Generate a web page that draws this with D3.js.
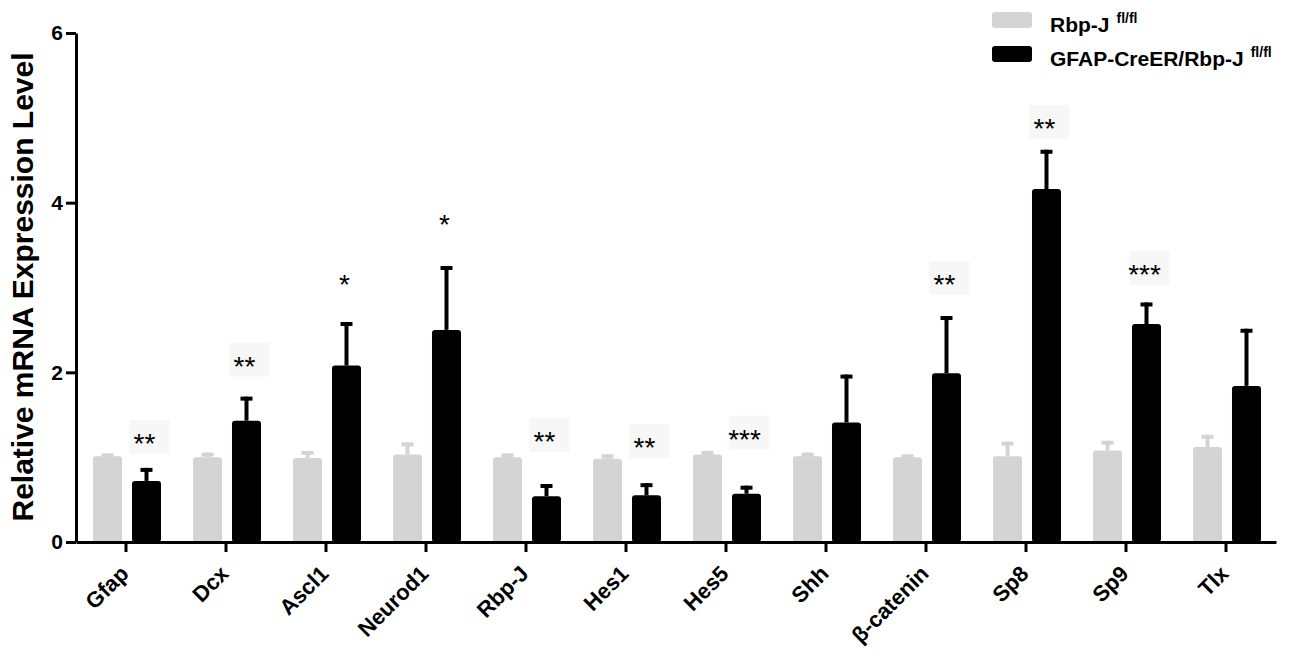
<!DOCTYPE html>
<html>
<head>
<meta charset="utf-8">
<script src="https://cdn.jsdelivr.net/npm/d3@7"></script>
<style>
  body { margin: 0; background: #fff; }
  svg text { font-family: "Liberation Sans", Arial, sans-serif; }
</style>
</head>
<body>
<svg width="1300" height="660"></svg>
<script>
const genes = ["Gfap", "Dcx", "Ascl1", "Neurod1", "Rbp-J", "Hes1", "Hes5", "Shh", "β-catenin", "Sp8", "Sp9", "Tlx"];
const seriesNames = ["Rbp-J", "GFAP-CreER/Rbp-J"];
const controlMean = [1.01, 1.0, 0.99, 1.03, 1.0, 0.98, 1.03, 1.01, 1.0, 1.01, 1.08, 1.12];
const controlErr = [0.01, 0.03, 0.06, 0.12, 0.02, 0.03, 0.02, 0.02, 0.01, 0.15, 0.09, 0.12];
const mutantMean = [0.72, 1.43, 2.08, 2.50, 0.54, 0.55, 0.57, 1.41, 1.99, 4.16, 2.57, 1.84];
const mutantErr = [0.13, 0.26, 0.49, 0.73, 0.12, 0.12, 0.07, 0.54, 0.65, 0.44, 0.23, 0.65];
const sigLabels = ["**", "**", "*", "*", "**", "**", "***", "", "**", "**", "***", ""];
const sigLevel = [1.24, 2.15, 3.11, 3.82, 1.26, 1.19, 1.29, null, 3.11, 4.95, 3.23, null];
const yTicks = [0, 2, 4, 6];

const svg = d3.select("svg");
const grey = "#d4d4d4";

const x = d3.scaleBand().domain(genes).range([76, 1276]);
const xSub = d3.scaleBand().domain([0, 1]).range([17, 85]).paddingInner(0.256);
const y = d3.scaleLinear().domain([0, 6]).range([542, 33]);

const rows = genes.map((g, i) => ({
  gene: g,
  bars: [
    { s: 0, v: controlMean[i], e: controlErr[i], gene: g },
    { s: 1, v: mutantMean[i], e: mutantErr[i], gene: g }
  ],
  sig: sigLabels[i],
  lvl: sigLevel[i]
}));

// bars + error bars
const grp = svg.append("g").selectAll("g")
  .data(rows)
  .join("g")
  .attr("transform", d => `translate(${x(d.gene)},0)`);

const bar = grp.selectAll("g.bar")
  .data(d => d.bars)
  .join("g")
  .attr("class", "bar");

bar.append("line")
  .attr("x1", d => xSub(d.s) + xSub.bandwidth() / 2)
  .attr("x2", d => xSub(d.s) + xSub.bandwidth() / 2)
  .attr("y1", d => y(d.v))
  .attr("y2", d => y(d.v + d.e) - 2)
  .attr("stroke", d => d.s ? "#000" : grey)
  .attr("stroke-width", 4);

bar.append("line")
  .attr("x1", d => xSub(d.s) + xSub.bandwidth() / 2 - 6)
  .attr("x2", d => xSub(d.s) + xSub.bandwidth() / 2 + 6)
  .attr("y1", d => y(d.v + d.e))
  .attr("y2", d => y(d.v + d.e))
  .attr("stroke", d => d.s ? "#000" : grey)
  .attr("stroke-width", 4);

bar.append("rect")
  .attr("x", d => xSub(d.s))
  .attr("width", xSub.bandwidth())
  .attr("y", d => y(d.v))
  .attr("height", d => y(0) - y(d.v))
  .attr("rx", 3)
  .attr("fill", d => d.s ? "#000" : grey);

// significance marks
const sig = grp.filter(d => d.sig);
sig.filter(d => d.sig.length > 1).append("rect")
  .attr("x", xSub(1) + xSub.bandwidth() / 2 - 17)
  .attr("y", d => y(d.lvl) - 17)
  .attr("width", 40)
  .attr("height", 34)
  .attr("fill", "#f7f7f7");
sig.append("text")
  .attr("x", xSub(1) + xSub.bandwidth() / 2 - 2)
  .attr("y", d => y(d.lvl) + 16)
  .attr("text-anchor", "middle")
  .attr("font-size", 28)
  .text(d => d.sig);

// axes
const yAxis = svg.append("g")
  .attr("transform", "translate(76,0)")
  .call(d3.axisLeft(y).tickValues(yTicks).tickFormat(d3.format("d"))
    .tickSize(10).tickSizeOuter(0).tickPadding(3));
const xAxis = svg.append("g")
  .attr("transform", `translate(0,${y(0)})`)
  .call(d3.axisBottom(x).tickSize(10).tickSizeOuter(0).tickFormat(() => ""));

[yAxis, xAxis].forEach(a => {
  a.select(".domain").attr("stroke", "#000").attr("stroke-width", 3);
  a.selectAll(".tick line").attr("stroke", "#000").attr("stroke-width", 3);
});
yAxis.selectAll(".tick text")
  .attr("font-size", 21)
  .attr("font-weight", "bold")
  .attr("fill", "#000");

svg.append("g").selectAll("text")
  .data(genes)
  .join("text")
  .attr("transform", d => `translate(${x(d) + x.bandwidth() / 2 + 4},${y(0) + 33}) rotate(-45)`)
  .attr("text-anchor", "end")
  .attr("font-size", 22)
  .attr("font-weight", "bold")
  .text(d => d);

svg.append("text")
  .attr("transform", "translate(33,287) rotate(-90)")
  .attr("text-anchor", "middle")
  .attr("font-size", 30)
  .attr("font-weight", "bold")
  .text("Relative mRNA Expression Level");

// legend
const legend = svg.append("g").selectAll("g")
  .data(seriesNames)
  .join("g")
  .attr("transform", (d, i) => `translate(992,${12 + i * 34})`);
legend.append("rect")
  .attr("width", 40)
  .attr("height", 16)
  .attr("rx", 3)
  .attr("fill", (d, i) => i ? "#000" : grey);
const lt = legend.append("text")
  .attr("x", 58)
  .attr("y", 20)
  .attr("font-size", 21)
  .attr("font-weight", "bold");
lt.append("tspan").text(d => d);
lt.append("tspan")
  .attr("dx", 7)
  .attr("dy", -9)
  .attr("font-size", 14)
  .text("fl/fl");
</script>
</body>
</html>
